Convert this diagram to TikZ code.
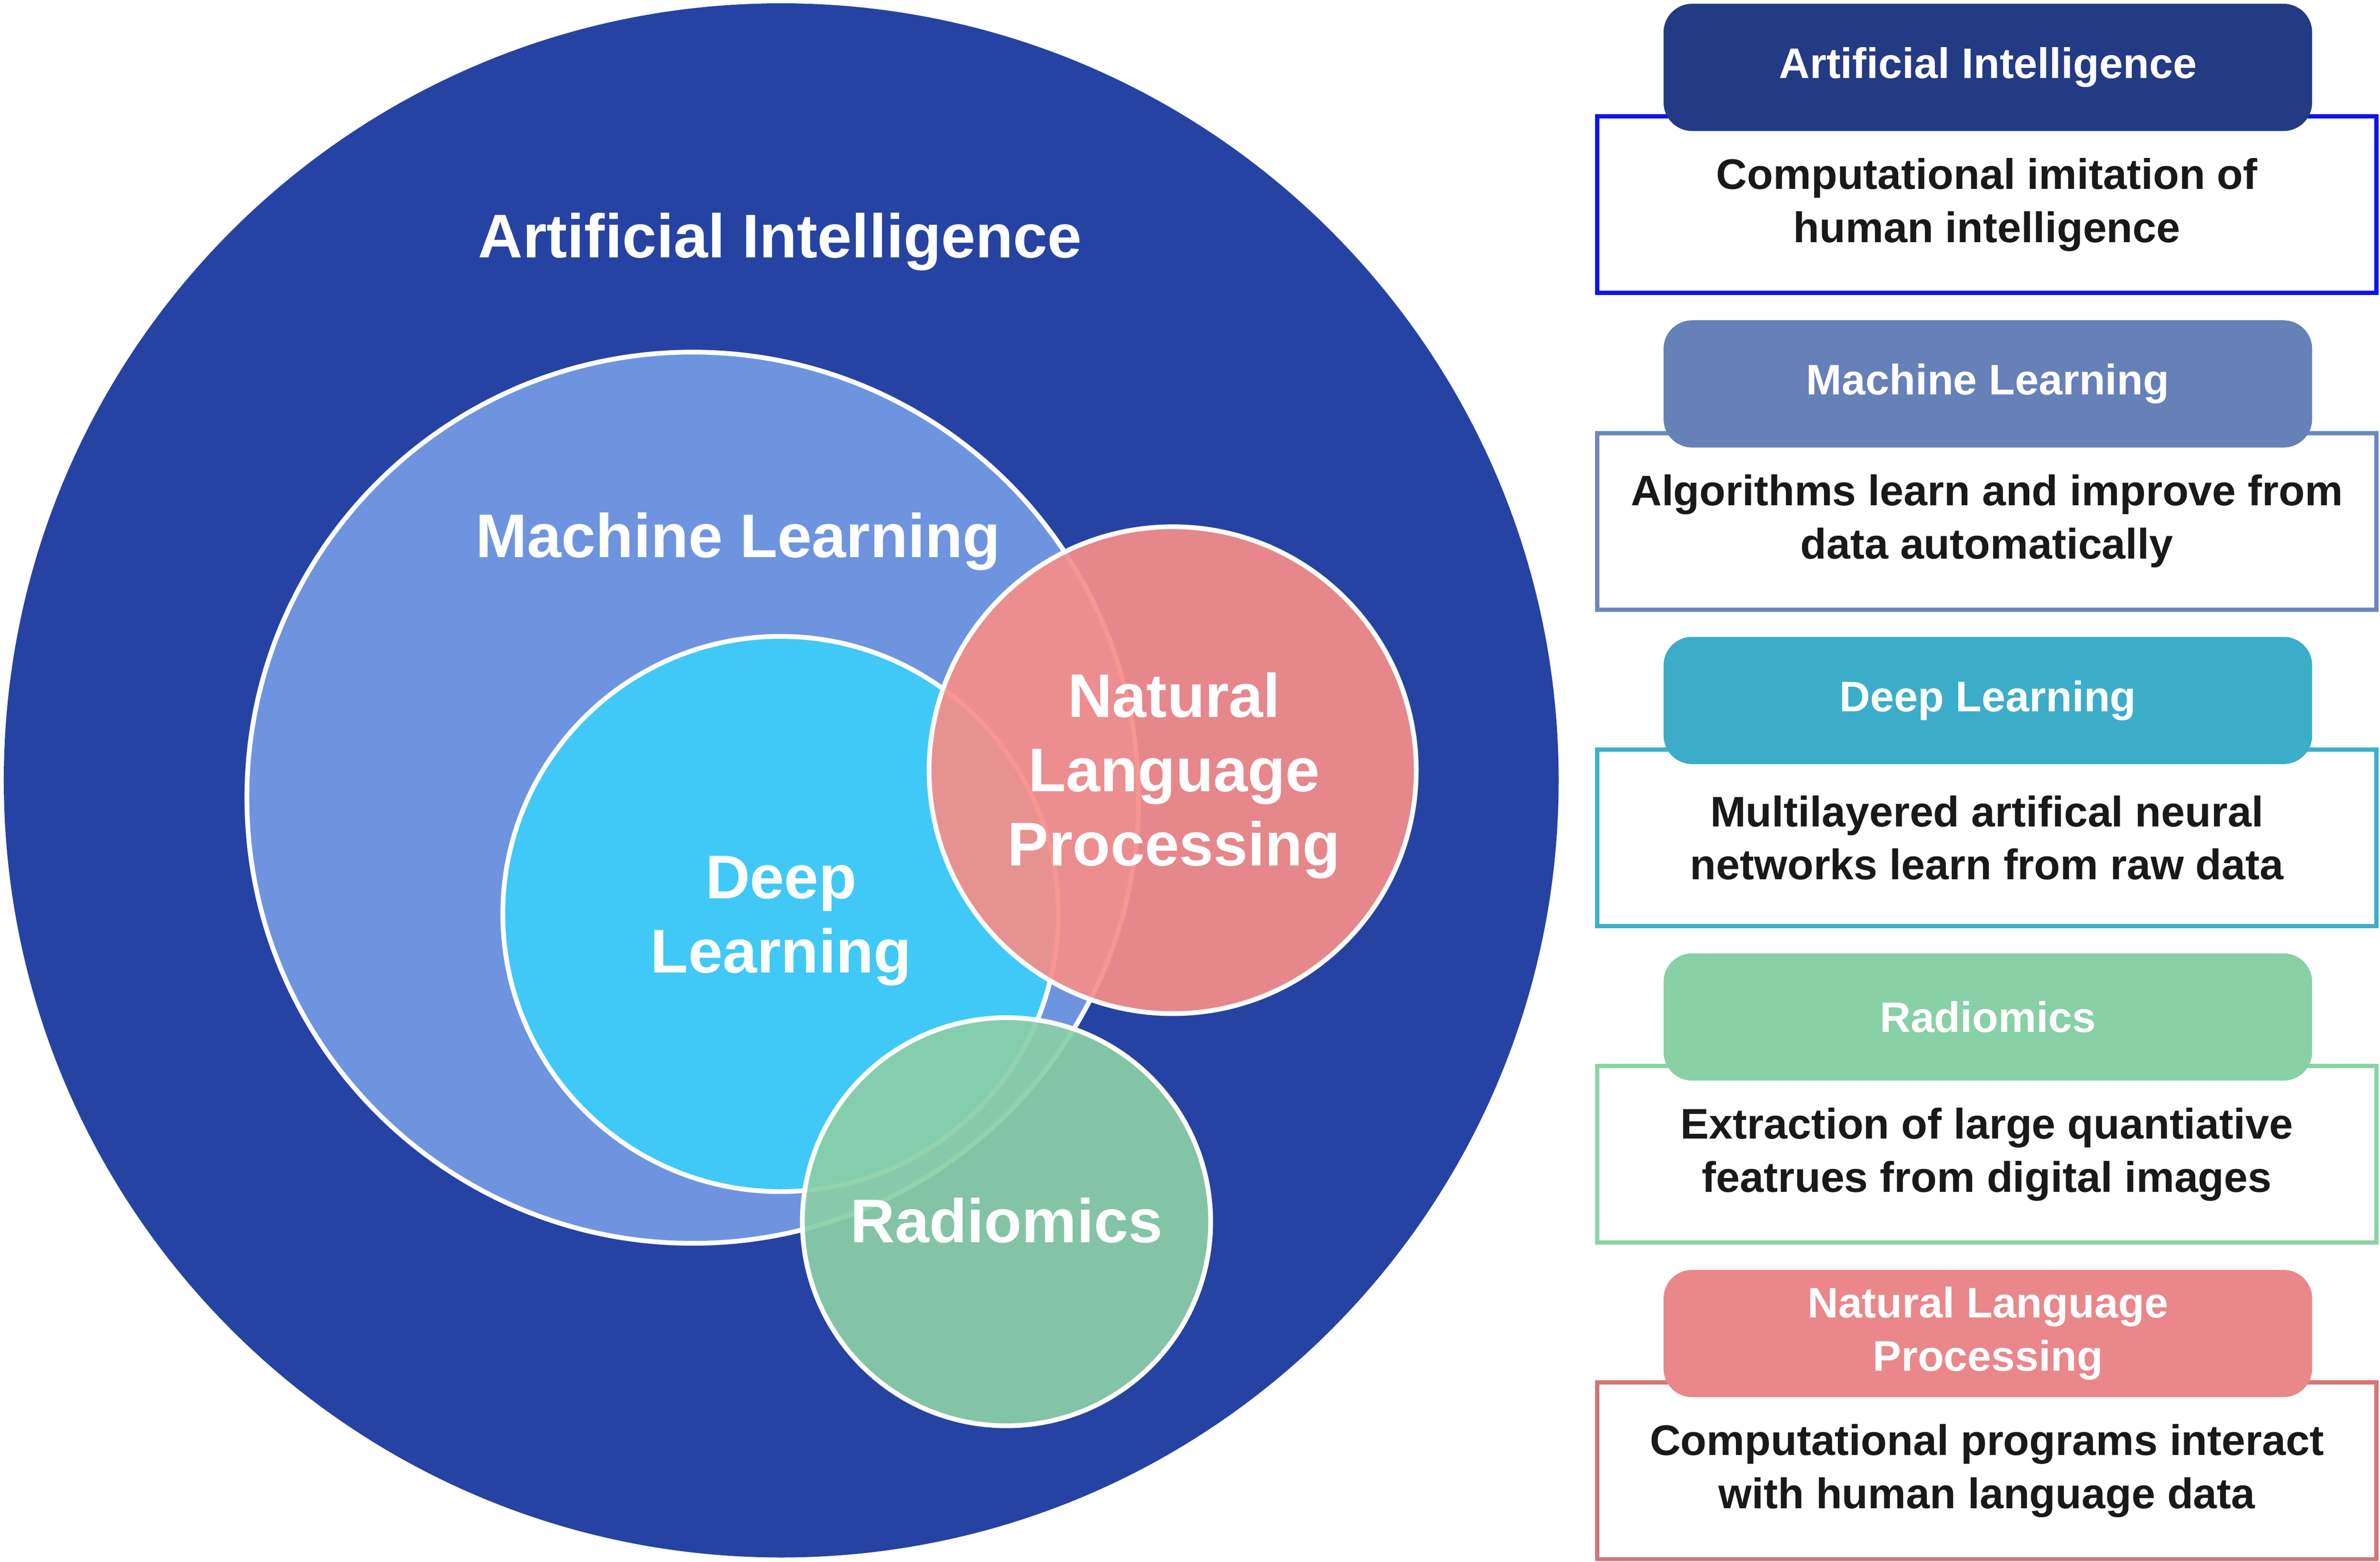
\documentclass[tikz,border=0pt]{standalone}
\usepackage{fontspec}
\setmainfont{Liberation Sans}

\definecolor{aifill}{HTML}{2643A3}
\definecolor{mlfill}{HTML}{6F94DF}
\definecolor{dlfill}{HTML}{40C9F6}
\definecolor{nlpfill}{HTML}{F78D89}
\definecolor{radfill}{HTML}{8BCFA7}
\definecolor{aihead}{HTML}{233A84}
\definecolor{aiedge}{HTML}{0A14EE}
\definecolor{mlhead}{HTML}{6680B8}
\definecolor{mledge}{HTML}{6C87BF}
\definecolor{dlhead}{HTML}{3BADC9}
\definecolor{dledge}{HTML}{3DAFCB}
\definecolor{radhead}{HTML}{88D0A5}
\definecolor{radedge}{HTML}{8CD3A9}
\definecolor{nlphead}{HTML}{EA878A}
\definecolor{nlpedge}{HTML}{D47576}

\tikzstyle{field} = [circle,draw=white,line width=0.1cm,inner sep=0pt]
\tikzstyle{fieldlabel} = [text=white,align=center,font=\fontsize{37}{44.5}\selectfont\bfseries]
\tikzstyle{heading} = [rounded corners=0.6cm,minimum width=13.66cm,minimum height=2.68cm,text=white,align=center,font=\fontsize{25.6}{31.9}\selectfont\bfseries]
\tikzstyle{note} = [draw,fill=white,line width=0.09cm,minimum width=16.41cm,minimum height=3.72cm,text=black!90,align=center,font=\fontsize{25.6}{31.9}\selectfont\bfseries]

\begin{document}
\begin{tikzpicture}[y=-1cm]
		\useasboundingbox (0,0) rectangle (50.13,32.91);
		% nested fields
		\node[circle,fill=aifill,inner sep=0pt,minimum size=32.75cm] (ai) at (16.455,16.445) {};
		\node[field,fill=mlfill,minimum size=18.78cm] (ml) at (14.59,16.81) {};
		\node[field,fill=dlfill,minimum size=11.70cm] (dl) at (16.44,19.26) {};
		\node[field,fill=nlpfill,fill opacity=0.92,minimum size=10.26cm] (nlp) at (24.70,16.23) {};
		\node[field,fill=radfill,fill opacity=0.92,minimum size=8.60cm] (rad) at (21.20,25.745) {};
		\node[fieldlabel] (ailabel) at (16.43,5.10) {Artificial Intelligence};
		\node[fieldlabel] (mllabel) at (15.55,11.41) {Machine Learning};
		\node[fieldlabel] (dllabel) at (16.45,19.41) {Deep\\Learning};
		\node[fieldlabel] (nlplabel) at (24.73,16.34) {Natural\\Language\\Processing};
		\node[fieldlabel] (radlabel) at (21.20,25.72) {Radiomics};
		% definitions
		\node[note,draw=aiedge] (aibox) at (41.85,4.315) {Computational imitation of\\human intelligence};
		\node[heading,fill=aihead] (aihead) at (41.87,1.42) {Artificial Intelligence};
		\node[note,draw=mledge] (mlbox) at (41.85,10.985) {Algorithms learn and improve from\\data automatically};
		\node[heading,fill=mlhead] (mlhead) at (41.87,8.09) {Machine Learning};
		\node[note,draw=dledge] (dlbox) at (41.85,17.655) {Multilayered artifical neural\\networks learn from raw data};
		\node[heading,fill=dlhead] (dlhead) at (41.87,14.76) {Deep Learning};
		\node[note,draw=radedge] (radbox) at (41.85,24.325) {Extraction of large quantiative\\featrues from digital images};
		\node[heading,fill=radhead] (radhead) at (41.87,21.43) {Radiomics};
		\node[note,draw=nlpedge] (nlpbox) at (41.85,30.995) {Computational programs interact\\with human language data};
		\node[heading,fill=nlphead] (nlphead) at (41.87,28.10) {Natural Language\\Processing};
\end{tikzpicture}
\end{document}
